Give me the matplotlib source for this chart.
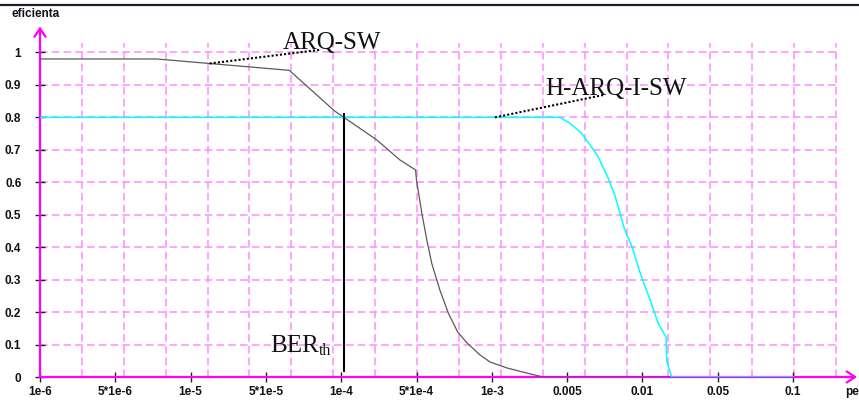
import numpy as np
import matplotlib.pyplot as plt
from matplotlib.lines import Line2D

# x axis is drawn with equally spaced "nice" BER values
tick_ber = [1e-6, 5e-6, 1e-5, 5e-5, 1e-4, 5e-4, 1e-3, 5e-3, 1e-2, 5e-2, 1e-1]
tick_labels = ["1e-6", "5*1e-6", "1e-5", "5*1e-5", "1e-4", "5*1e-4", "1e-3",
               "0.005", "0.01", "0.05", "0.1"]
y_ticks = [0, 0.1, 0.2, 0.3, 0.4, 0.5, 0.6, 0.7, 0.8, 0.9, 1]
y_labels = ["0", "0.1", "0.2", "0.3", "0.4", "0.5", "0.6", "0.7", "0.8", "0.9", "1"]

# ARQ-SW efficiency
arq_ber = [1e-6, 7.3e-6, 1.5e-5, 6.2e-5, 9.4e-5, 2.15e-4, 3.5e-4, 4.9e-4, 5.0e-4,
           5.25e-4, 5.5e-4, 5.75e-4, 6.2e-4, 6.7e-4, 7.3e-4, 7.96e-4, 8.97e-4,
           9.85e-4, 1.38e-3, 1.95e-3, 2.99e-3, 1e-1]
arq_eff = [0.98, 0.98, 0.966, 0.945, 0.82, 0.73, 0.669, 0.638, 0.607,
           0.505, 0.422, 0.351, 0.268, 0.197, 0.139, 0.105, 0.068,
           0.046, 0.028, 0.015, 0.0, 0.0]

# H-ARQ-I-SW efficiency
harq_ber = [1e-6, 3.7e-3, 4.3e-3, 5.1e-3, 5.7e-3, 6.6e-3, 7.3e-3, 7.8e-3, 8.5e-3,
            9.1e-3, 9.8e-3, 1.18e-2, 1.4e-2, 1.66e-2, 1.68e-2, 1.87e-2, 1e-1]
harq_eff = [0.8, 0.8, 0.8, 0.783, 0.752, 0.684, 0.613, 0.555, 0.453,
            0.401, 0.32, 0.237, 0.166, 0.123, 0.05, 0.0, 0.0]

ber_th = 1.06e-4

L = np.log10(tick_ber)
idx = np.arange(len(tick_ber), dtype=float)


def forward(x):
    lx = np.log10(np.clip(np.asarray(x, dtype=float), 1e-12, None))
    y = np.interp(lx, L, idx)
    y = np.where(lx > L[-1], idx[-1] + (lx - L[-1]) / (L[-1] - L[-2]), y)
    y = np.where(lx < L[0], (lx - L[0]) / (L[1] - L[0]), y)
    return y


def inverse(y):
    y = np.asarray(y, dtype=float)
    lx = np.interp(y, idx, L)
    lx = np.where(y > idx[-1], L[-1] + (y - idx[-1]) * (L[-1] - L[-2]), lx)
    lx = np.where(y < 0, L[0] + y * (L[1] - L[0]), lx)
    return 10 ** lx


plt.rcParams['font.family'] = ['Liberation Sans', 'DejaVu Sans']

fig = plt.figure(figsize=(8.59, 4.0), dpi=100)
ax = fig.add_axes([40 / 859, 23 / 400, 815 / 859, 350.5 / 400])
ax.set_xscale('function', functions=(forward, inverse))
ax.set_xlim(1e-6, float(inverse(815 / 75.3)))
ax.set_ylim(0, 1.08)
for s in ax.spines.values():
    s.set_visible(False)

pink = '#ff8cff'
magenta = '#ff00ff'

# grid (not aligned to the ticks in the original)
x_end = float(inverse(796 / 75.3))
grid_x = inverse(np.arange(1, 20) * 796 / 19 / 75.3)
ax.vlines(grid_x, 0, 1.03, colors=pink, linestyles=(0, (5, 2.7)), lw=1.1, zorder=1)
ax.hlines(y_ticks[1:], 1e-6, x_end, colors=pink, linestyles=(0, (5, 2.7)), lw=1.1, zorder=1)

# axes with open arrow heads
arrow = dict(arrowstyle='->,head_length=0.6,head_width=0.4',
             color=magenta, lw=1.6, shrinkA=0, shrinkB=0)
ax.annotate('', xy=(1.0025, 0), xytext=(0, 0), xycoords='axes fraction',
            arrowprops=arrow, annotation_clip=False, zorder=2)
ax.annotate('', xy=(0, 1.0), xytext=(0, 0), xycoords='axes fraction',
            arrowprops=arrow, annotation_clip=False, zorder=2)

ax.plot(arq_ber, arq_eff, color='#5a5a5a', lw=0.9, zorder=4)
ax.plot(harq_ber, harq_eff, color='#00ffff', lw=1.1, zorder=5)
ax.vlines(ber_th, 0.015, 0.815, colors='black', lw=1.5, zorder=6)

ax.set_xticks(tick_ber, tick_labels)
ax.xaxis.set_minor_locator(plt.NullLocator())
ax.set_yticks(y_ticks, y_labels)
ax.tick_params(direction='inout', length=7, width=1.0, color='#222222',
               labelsize=8.5, labelcolor='#111111')
ax.tick_params(axis='x', pad=3)
ax.tick_params(axis='y', pad=10)
for t in ax.get_xticklabels() + ax.get_yticklabels():
    t.set_fontweight('bold')

# labels with dotted leader lines
serif = dict(family='Liberation Serif', fontsize=18, color='#111111', zorder=7)
ax.plot([1.5e-5, 8.2e-5], [0.966, 1.008], color='black', lw=1.5,
        ls=(0, (1, 1)), zorder=7)
ax.text(5.85e-5, 1.01, 'ARQ-SW', va='baseline', ha='left', **serif)
ax.plot([1.07e-3, 6.98e-3], [0.8, 0.869], color='black', lw=1.5,
        ls=(0, (1, 1)), zorder=7)
ax.text(3.12e-3, 0.87, 'H-ARQ-I-SW', va='baseline', ha='left', **serif)

ax.text(5.19e-5, 0.077, 'BER', va='baseline', ha='left', **serif)
ax.annotate('th', xy=(5.19e-5, 0.077), xytext=(35.5, -2), textcoords='offset points',
            va='baseline', ha='left', family='Liberation Serif', fontsize=11.5,
            color='#111111', zorder=7)

fig.text(12 / 859, 1 - 14 / 400, 'eficienta', fontsize=8.5, fontweight='bold',
         color='#111111', va='center', ha='left')
fig.text(845 / 859, 1 - 392 / 400, 'pe', fontsize=8.5, fontweight='bold',
         color='#111111', va='center', ha='left')
fig.add_artist(Line2D([0, 1], [1 - 5 / 400, 1 - 5 / 400], color='#1c1c2c', lw=1.6))

fig.savefig('out.png', dpi=100)
